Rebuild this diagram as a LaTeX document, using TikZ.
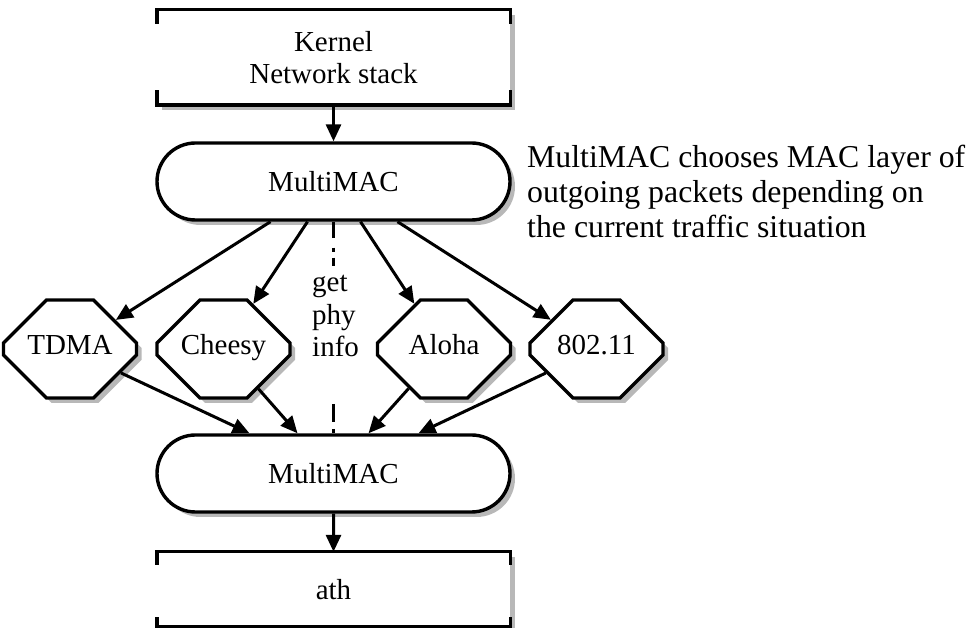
\documentclass[tikz,border=0pt]{standalone}
\usepackage{fontspec}
\setmainfont{Liberation Serif}
\usetikzlibrary{shapes.misc,arrows.meta,shadows,calc}
\tikzset{
  lbl/.style={font=\fontsize{29}{32.5}\selectfont},
  shad/.style={drop shadow={shadow xshift=5pt, shadow yshift=-5pt, fill=black, opacity=0.28}},
  openbox/.style={rectangle, fill=white, shad, minimum width=353pt, inner sep=0pt, align=center, lbl},
  boxline/.style={line width=3.4pt, line cap=rect},
  pill/.style={rounded rectangle, draw, line width=3.4pt, fill=white, shad, minimum width=353pt, minimum height=77pt, inner sep=0pt, lbl},
  octo/.style={chamfered rectangle, chamfered rectangle xsep=39pt, chamfered rectangle ysep=29pt, draw, line width=3.4pt, fill=white, shad, minimum width=133pt, minimum height=98pt, inner sep=0pt, lbl, text height=20pt, text depth=8pt},
  conn/.style={line width=3pt, -{Triangle[length=17pt,width=15pt]}},
  dashline/.style={line width=3pt},
}
\begin{document}
\begin{tikzpicture}[x=1pt,y=1pt]
\useasboundingbox (0,0) rectangle (973,628);
\clip (0,0) rectangle (973,628);

% nodes
\node[openbox, minimum height=95pt] (kern) at (333.5,570.5) {Kernel\\Network stack};
\node[pill] (mm1) at (333.5,446.5) {MultiMAC};
\node[pill] (mm2) at (333.5,154.5) {MultiMAC};
\node[openbox, minimum height=75pt] (ath) at (333.5,38.5) {ath};

\node[octo] (tdma) at (70,279) {TDMA};
\node[octo] (cheesy) at (223.5,279) {Cheesy};
\node[octo] (aloha) at (444,279) {Aloha};
\node[octo] (wifi) at (596.5,279) {802.11};

\node[lbl, align=left, anchor=base west, inner sep=0pt] (gpi) at (312,271) {get\\phy\\info};

\node[anchor=base west, align=left, inner sep=0pt, font=\fontsize{31.8}{35}\selectfont] (note) at (527,390)
  {MultiMAC chooses MAC layer of\\outgoing packets depending on\\the current traffic situation};

% open box outlines
\draw[boxline] ($(kern.north west)+(0,-13)$) -- (kern.north west) -- (kern.north east) -- ++(0,-13);
\draw[boxline] ($(kern.south west)+(0,13)$) -- (kern.south west) -- (kern.south east) -- ++(0,13);
\draw[boxline] ($(ath.north west)+(0,-12)$) -- (ath.north west) -- (ath.north east) -- ++(0,-12);
\draw[boxline] ($(ath.south west)+(0,8)$) -- (ath.south west) -- (ath.south east) -- ++(0,8);

% coordinates on the MultiMAC nodes
\coordinate (t1) at ($(mm1.south)+(-63,0)$);
\coordinate (t2) at ($(mm1.south)+(-26,0)$);
\coordinate (t3) at ($(mm1.south)+(27,0)$);
\coordinate (t4) at ($(mm1.south)+(64,0)$);
\coordinate (b1) at ($(mm2.north)+(-84,0)$);
\coordinate (b2) at ($(mm2.north)+(-36,0)$);
\coordinate (b3) at ($(mm2.north)+(35,0)$);
\coordinate (b4) at ($(mm2.north)+(85,0)$);
\coordinate (dtop) at (333.5,362);
\coordinate (dbot) at (333.5,224);

% connectors
\draw[conn] (kern) -- (mm1);
\draw[conn] (mm2) -- (ath);
\draw[conn] (t1) -- (tdma);
\draw[conn] (t2) -- (cheesy);
\draw[conn] (t3) -- (aloha);
\draw[conn] (t4) -- (wifi);
\draw[conn] (tdma) -- (b1);
\draw[conn] (cheesy) -- (b2);
\draw[conn] (aloha) -- (b3);
\draw[conn] (wifi) -- (b4);
\draw[dashline, dash pattern=on 16pt off 10pt on 4pt off 6pt on 8pt off 20pt] (mm1.south) -- (dtop);
\draw[dashline, dash pattern=on 18pt off 7pt on 8pt off 20pt] (dbot) -- (mm2.north);
\end{tikzpicture}
\end{document}
